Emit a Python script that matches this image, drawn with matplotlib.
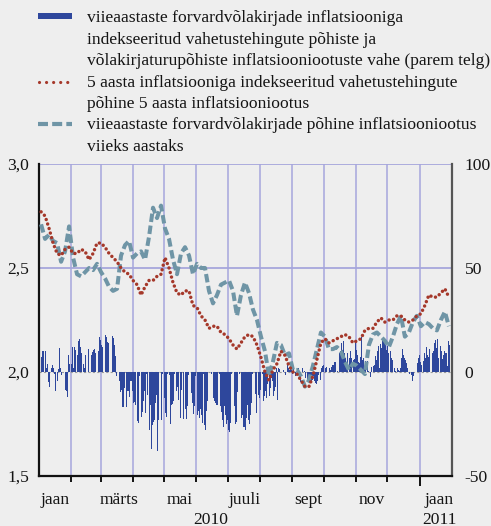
import matplotlib
matplotlib.use('Agg')
import matplotlib.pyplot as plt
import matplotlib.transforms as mtransforms
import matplotlib.dates as mdates
from matplotlib.lines import Line2D
from matplotlib.patches import Rectangle
import numpy as np
import pandas as pd

# ---------------- data ----------------
# Bars (right axis): difference between swap-based and bond-based expectations
bar_vals_jan_may = [7, 10, 10, 0, 10, 2, 4, -5, -7, 0,
                    2, 3.5, 2, -1, -9, 0, -4.5, 1.5, 11.5, 2,
                    -1.5, 0, 0, -8.5, -9, -12, 8, 4, 0, 4,
                    12, 2, 12, 10.7, 0, 8, 14.7, 16, 12, 9,
                    0, 4, 2, 8, 0, 11, 0, 0, 8, 9.6,
                    10.7, 11, 9, 0, 0, 10, 16.7, 15.5, 12.8, 11.9,
                    0, 0, 18, 17, 14.4, 14, 0, 0, 17.5, 16.3,
                    13, 7.5, -2, 0, 0, -4.5, -9.6, -8.5, -17, -17,
                    -7.7, 0, -17, -9.3, -9.3, -12, -4.5, -4.5, -9.3, -15,
                    -14.6, -15.7, -23.7, -24.7, -2, 0, -21.8, -19, -14, -9.3,
                    -19.7, -1, -11, 0, -27.7, -16, -36.9, -25.6, -24, -23,
                    -15, -11, -38, -23, 0, -23, -1, 0, -12.5, -19.7,
                    -21.8, -1, 0, -1.6, -25, -16, -15.5, -14, -1, 0,
                    -9.3]
bar_vals_may_sep = [-7.4, -13.3, 0, -22, -8.5, 0, -22.6, -17.6, -22.4, -16.5,
                    -1.3, 0, 0, -10, -15, -20, -16.5, -2, 0, -20.5,
                    -18.6, -22, -18, -20.5, -24.5, -1, -25.3, -27.7, -18.6, -14,
                    -13.8, 0, -1, 0, -12.5, -14, -15, -15.7, -16, 0,
                    -1, -16.5, -19.2, -23, -26.6, -16.5, -20.5, -25, -23, -27.7,
                    -29, -24.5, -1, 0, -16.5, -25, -24, -9.6, 0, -1,
                    0, -22, -20.5, -26.6, -26.3, -27.7, -22, -15.7, -23, -25,
                    -20.5, -15, -1, 0, 0, -10.6, -19.7, -11.2, -12.5, -8.5,
                    0, -1, -14, -11.7, -9, -12.5, -6, -1, -11.7, -7.7,
                    -3, -4.5, -11.7, -9.3, -7, 2, -13.3, 2, 1.5, 0,
                    0.5, 1, 0, -1.6, 0, 4, 2, 1, 2, 2,
                    -1, 2, 0, -2, 0, 1.5, 2, 0, -5, 0,
                    2, 0, 0.6, -3, -4, -2, -5, -3, -5, -4, -2]
bar_vals_sep_jan = [-4.5, -5.3, -5.8, -4.2, -1.6, 0, -3.7, 2, 2.7, 3.5,
                    0, 2, 2.6, 3.5, 2, 1, 2.2, 3.5, 3.5, 4.8,
                    5, 0, 0.6, 0, 9, 10, 14, 10.7, 14.7, 9,
                    6.7, 3.5, 9, 6.7, 10, 6.7, 0, 6, 6.4, 14.7,
                    10.7, 8.3, 5, 4.3, 7, 17, 6, 6.7, 2, 5.4,
                    0, 5.4, 0.6, -2.6, 2.2, 0, 2.7, 3.2, 7.5, 6,
                    10, 12.3, 2, 13.5, 11.5, 15.5, 15, 14.7, 13, 10.7,
                    12.3, 9, 10, 6.7, 6, 0, 2, 0.6, 0, 2,
                    1, 0.3, 2, 6.7, 11, 8.3, 6.7, 6, 4.3, 2,
                    0, -1, -1.6, -4.2, -2, 0, 0, 0, 4.3, 6.7,
                    8.3, 5, 3.5, 0, 5.4, 9, 6.7, 12, 8.3, 7,
                    11, 11.5, 9, 10, 14, 15.5, 11.5, 16, 6.7, 0,
                    12.3, 10, 6.4, 8.3, 10, 9, 9, 2.7, 14.7, 13]
bar_periods = [("2010-01-03", "2010-05-13"),
               ("2010-05-14", "2010-09-21"),
               ("2010-09-22", "2011-01-30")]

# Lines (left axis)
line_start, line_end = "2010-01-03", "2011-01-29"
swap_5y = [2.77, 2.75, 2.69, 2.62, 2.57, 2.56, 2.59, 2.60, 2.57, 2.57,
           2.59, 2.58, 2.54, 2.57, 2.62, 2.62, 2.60, 2.57, 2.55, 2.53,
           2.50, 2.48, 2.47, 2.44, 2.42, 2.37, 2.41, 2.44, 2.44, 2.46,
           2.47, 2.55, 2.50, 2.43, 2.38, 2.37, 2.39, 2.39, 2.32, 2.31,
           2.27, 2.25, 2.21, 2.22, 2.22, 2.19, 2.18, 2.16, 2.13, 2.11,
           2.14, 2.17, 2.18, 2.17, 2.13, 2.07, 2.00, 1.96, 2.01, 2.04,
           2.10, 2.08, 2.03, 2.00, 1.99, 1.96, 1.93, 1.93, 1.98, 2.06,
           2.14, 2.16, 2.14, 2.15, 2.16, 2.17, 2.18, 2.17, 2.14, 2.15,
           2.16, 2.20, 2.21, 2.21, 2.24, 2.26, 2.24, 2.25, 2.25, 2.27,
           2.27, 2.25, 2.24, 2.25, 2.27, 2.28, 2.32, 2.37, 2.36, 2.36,
           2.38, 2.40, 2.36]
bond_5y5y = [2.71, 2.64, 2.66, 2.63, 2.62, 2.53, 2.58, 2.70, 2.55, 2.47,
             2.46, 2.48, 2.50, 2.49, 2.52, 2.48, 2.45, 2.41, 2.39, 2.40,
             2.56, 2.61, 2.63, 2.55, 2.57, 2.58, 2.54, 2.65, 2.79, 2.74,
             2.80, 2.69, 2.64, 2.54, 2.47, 2.57, 2.60, 2.56, 2.47, 2.52,
             2.50, 2.50, 2.39, 2.33, 2.37, 2.42, 2.43, 2.44, 2.39, 2.27,
             2.37, 2.43, 2.38, 2.30, 2.25, 2.17, 2.10, 1.98, 2.05, 2.14,
             2.13, 2.08, 2.09, 2.01, 2.01, 1.98, 1.93, 1.96, 2.03, 2.11,
             2.19, 2.17, 2.11, 2.11, 2.12, 2.10, 2.05, 2.01, 2.04, 2.03,
             2.01, 1.99, 2.13, 2.18, 2.19, 2.17, 2.15, 2.12, 2.17, 2.23,
             2.27, 2.17, 2.19, 2.24, 2.27, 2.22, 2.24, 2.23, 2.21, 2.20,
             2.25, 2.29, 2.22]

left_ticks = [1.5, 2.0, 2.5, 3.0]
left_labels = ["1,5", "2,0", "2,5", "3,0"]
right_ticks = [-50, 0, 50, 100]
right_labels = ["-50", "0", "50", "100"]
month_labels = ["jaan", "märts", "mai", "juuli", "sept", "nov", "jaan"]
month_label_dates = ["2010-01-16", "2010-03-19", "2010-05-16", "2010-07-17",
                     "2010-09-16", "2010-11-16", "2011-01-20"]
year_labels = ["2010", "2011"]
year_label_dates = ["2010-06-15", "2011-01-20"]

legend_texts = [
    ["viieaastaste forvardvõlakirjade inflatsiooniga",
     "indekseeritud vahetustehingute põhiste ja",
     "võlakirjaturupõhiste inflatsiooniootuste vahe (parem telg)"],
    ["5 aasta inflatsiooniga indekseeritud vahetustehingute",
     "põhine 5 aasta inflatsiooniootus"],
    ["viieaastaste forvardvõlakirjade põhine inflatsiooniootus",
     "viieks aastaks"],
]

# ---------------- style ----------------
BG = '#eeeeee'
BLUE = '#2e479c'
RED = '#a5382a'
TEAL = '#6f95a6'
GRID = '#a6a6dc'
TXT = '#141414'
W, H = 491, 526
plt.rcParams['font.family'] = 'serif'
plt.rcParams['font.serif'] = ['Liberation Serif', 'DejaVu Serif']
FS = 12.6

fig = plt.figure(figsize=(W / 100, H / 100), dpi=100, facecolor=BG)


def fx(px):
    return px / W


def fy(py):
    return 1 - py / H


ax = fig.add_axes([fx(39), fy(476), fx(452) - fx(39), fy(164) - fy(476)])
ax2 = ax.twinx()
ax.set_zorder(2)
ax2.set_zorder(1)
ax.patch.set_visible(False)
ax2.patch.set_facecolor(BG)

xmin, xmax = pd.Timestamp("2010-01-01"), pd.Timestamp("2011-02-01")
ax.set_xlim(xmin, xmax)
ax.set_ylim(1.5, 3.0)
ax2.set_ylim(-50, 100)

# grid (behind bars)
month_starts = pd.date_range("2010-02-01", "2011-01-01", freq="MS")
for d in month_starts:
    ax2.axvline(d, color=GRID, lw=1.1, zorder=0)
for v in [50, 100]:
    ax2.axhline(v, color=GRID, lw=1.3, zorder=0)
ax2.axhline(0, color='#9a9a9a', lw=0.8, ls=(0, (2, 2)), zorder=0.5)

# bars
for vals, (s, e) in zip([bar_vals_jan_may, bar_vals_may_sep, bar_vals_sep_jan], bar_periods):
    dts = pd.date_range(s, e, periods=len(vals))
    ax2.bar(dts, vals, width=0.95, color=BLUE, linewidth=0, zorder=1)

# lines
ldates = pd.date_range(line_start, line_end, periods=len(swap_5y))
ax.plot(ldates, bond_5y5y, color=TEAL, lw=2.9, linestyle=(0, (2.1, 0.9)),
        dash_capstyle='butt', zorder=3)
ax.plot(ldates, swap_5y, color=RED, lw=2.5, linestyle=(0, (0.01, 1.35)),
        dash_capstyle='round', zorder=4)

# spines
for s in ['top', 'right']:
    ax.spines[s].set_visible(False)
for s in ['top', 'left', 'bottom']:
    ax2.spines[s].set_visible(False)
ax.spines['left'].set_color('#111111')
ax.spines['left'].set_linewidth(1.6)
ax.spines['bottom'].set_color('#111111')
ax.spines['bottom'].set_linewidth(1.6)
ax2.spines['right'].set_color('#555555')
ax2.spines['right'].set_linewidth(1.6)

# y ticks
ax.set_yticks(left_ticks)
ax.set_yticklabels(left_labels, fontsize=FS, color=TXT)
ax.tick_params(axis='y', length=0, pad=7)
ax2.set_yticks(right_ticks)
ax2.set_yticklabels(right_labels, fontsize=FS, color=TXT)
ax2.tick_params(axis='y', length=0, pad=9)

# x ticks: month starts
ax.set_xticks([pd.Timestamp("2011-01-01")])
ax.set_xticklabels([""])
ax.set_xticks(list(month_starts[:-1]), minor=True)
ax.tick_params(axis='x', which='major', length=7, width=1.4, color='#111111')
ax.tick_params(axis='x', which='minor', length=4, width=1.4, color='#111111')

trans = mtransforms.blended_transform_factory(ax.transData, fig.transFigure)
for lab, d in zip(month_labels, month_label_dates):
    fig.text(mdates.date2num(pd.Timestamp(d)), fy(504), lab, transform=trans, ha='center',
             va='baseline', fontsize=FS, color=TXT)
for lab, d in zip(year_labels, year_label_dates):
    fig.text(mdates.date2num(pd.Timestamp(d)), fy(523.5), lab, transform=trans, ha='center',
             va='baseline', fontsize=FS, color=TXT)

# legend (manual)
fig.add_artist(Rectangle((fx(38), fy(18.5)), fx(72) - fx(38), fy(13.5) - fy(18.5),
                         transform=fig.transFigure, color=BLUE, lw=0))
fig.add_artist(Line2D([fx(39), fx(72)], [fy(81.5), fy(81.5)], transform=fig.transFigure,
                      color=RED, lw=2.3, linestyle=(0, (0.01, 2.2)), dash_capstyle='round'))
fig.add_artist(Line2D([fx(38), fx(72)], [fy(123.5), fy(123.5)], transform=fig.transFigure,
                      color=TEAL, lw=3.0, linestyle=(0, (2.4, 1.0)), dash_capstyle='butt'))
k = 0
for entry in legend_texts:
    for line in entry:
        fig.text(fx(87), fy(22.5 + 21.35 * k), line, fontsize=FS, color=TXT,
                 ha='left', va='baseline')
        k += 1

fig.savefig("out.png", dpi=100, facecolor=BG)
